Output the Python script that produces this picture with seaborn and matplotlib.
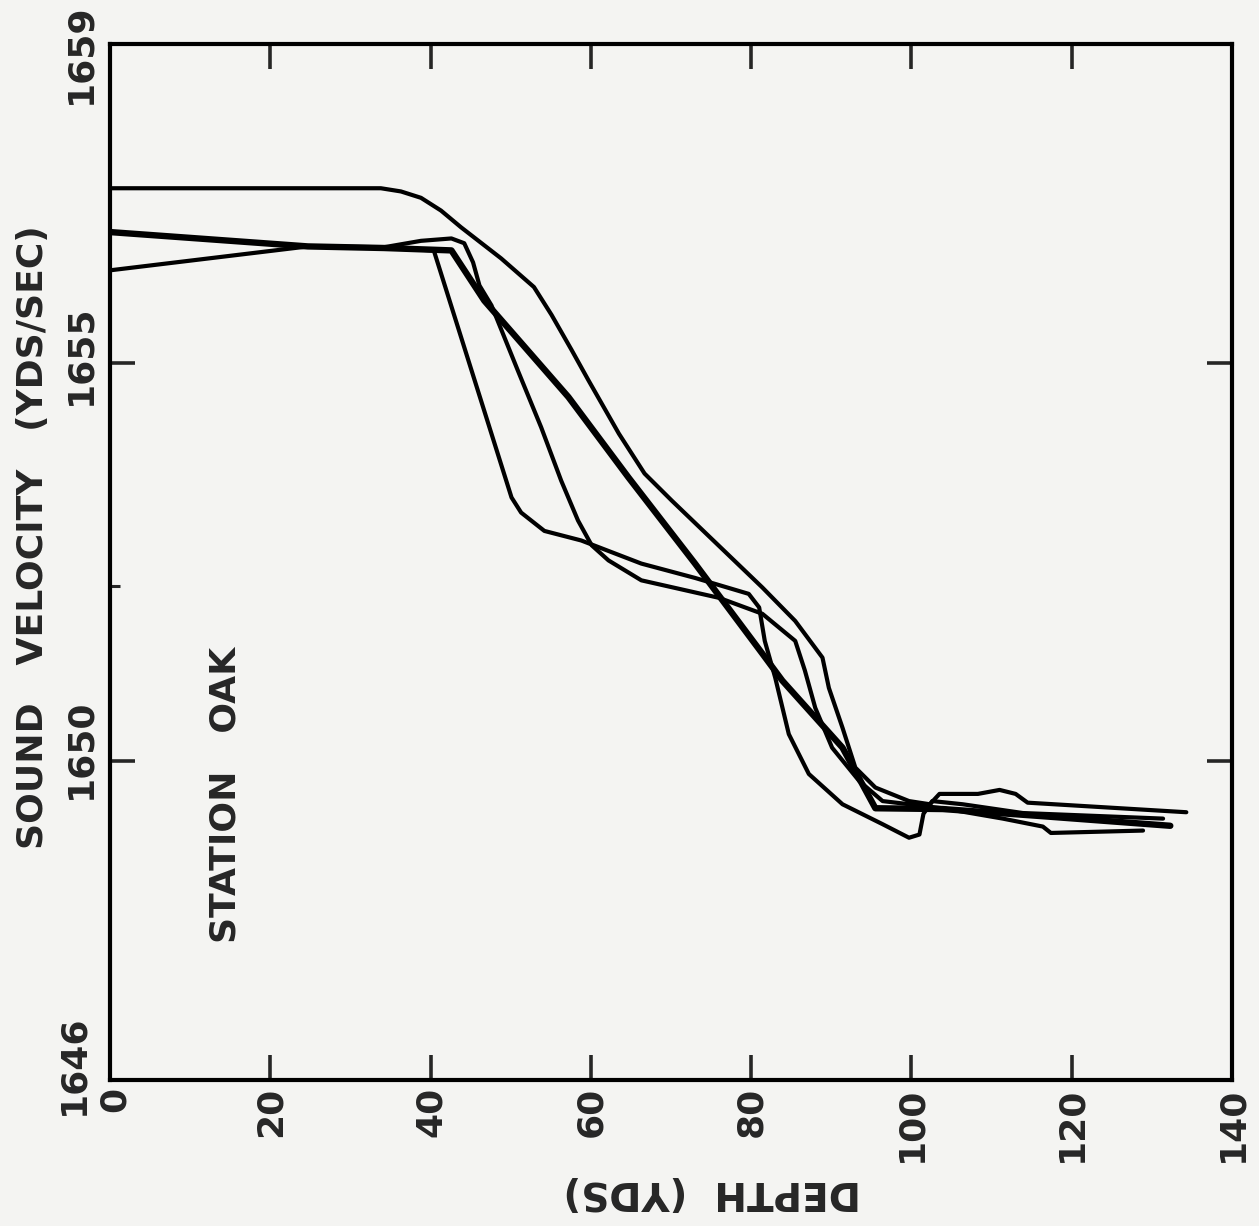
import matplotlib
matplotlib.use("Agg")
import matplotlib.pyplot as plt
import matplotlib.transforms as mtransforms
import seaborn as sns

# Set style
sns.set_style("ticks")
plt.rcParams['font.family'] = ['DejaVu Sans']

# Profiles: depth (yds) vs sound velocity (yds/sec)
depth_a = [0, 33.8, 36.3, 38.8, 41.3, 43.8, 48.8, 52.9, 55.1, 57.6, 59.7, 63.5,
           66.7, 70.1, 81.4, 85.5, 88.9, 89.7, 91.4, 93.0, 95.5, 99.7, 102.3,
           103.5, 108.3, 111.0, 113.0, 114.5, 134.3]
vel_a = [1657.19, 1657.19, 1657.15, 1657.07, 1656.91, 1656.70, 1656.31, 1655.95,
         1655.60, 1655.16, 1654.78, 1654.11, 1653.61, 1653.27, 1652.18, 1651.76,
         1651.30, 1650.92, 1650.42, 1649.92, 1649.67, 1649.50, 1649.46, 1649.59,
         1649.59, 1649.64, 1649.59, 1649.48, 1649.36]

depth_b = [0, 24.7, 34.2, 42.6, 46.7, 57.2, 64.7, 73.0, 81.4, 83.9, 91.4, 95.5,
           103.9, 116.4, 132.3]
vel_b = [1656.64, 1656.46, 1656.44, 1656.41, 1655.78, 1654.57, 1653.56, 1652.48,
         1651.35, 1651.01, 1650.17, 1649.41, 1649.40, 1649.31, 1649.19]

depth_c = [0, 24.7, 34.2, 38.8, 42.6, 44.2, 45.3, 46.1, 47.6, 50.9, 53.8, 56.3,
           58.4, 60.1, 62.2, 66.3, 76.0, 81.4, 85.5, 86.7, 88.0, 90.1, 93.5,
           96.4, 103.9, 111.4, 116.4, 117.4, 128.9]
vel_c = [1656.16, 1656.46, 1656.45, 1656.53, 1656.56, 1656.50, 1656.26, 1655.97,
         1655.72, 1654.90, 1654.19, 1653.52, 1653.02, 1652.71, 1652.52, 1652.27,
         1652.05, 1651.85, 1651.51, 1651.14, 1650.67, 1650.17, 1649.75, 1649.50,
         1649.41, 1649.28, 1649.18, 1649.10, 1649.13]

depth_d = [0, 24.7, 34.2, 40.4, 50.1, 51.3, 54.2, 58.8, 66.3, 73.0, 79.7, 81.0,
           81.7, 83.0, 84.7, 87.2, 91.4, 96.4, 99.7, 101.0, 101.5, 102.6, 106.4,
           113.9, 131.4]
vel_d = [1656.64, 1656.46, 1656.44, 1656.41, 1653.31, 1653.12, 1652.89, 1652.77,
         1652.48, 1652.30, 1652.10, 1651.93, 1651.51, 1651.05, 1650.34, 1649.84,
         1649.46, 1649.21, 1649.04, 1649.08, 1649.34, 1649.50, 1649.46, 1649.35,
         1649.28]

x_ticks = [0, 20, 40, 60, 80, 100, 120, 140]
y_ticks = [1646, 1650, 1655, 1659]

fig = plt.figure(figsize=(12.59, 12.26), dpi=100)
fig.patch.set_facecolor('#f4f4f2')
ax = fig.add_axes([110 / 1259, 1 - 1080 / 1226, 1122 / 1259, 1036 / 1226])
ax.set_facecolor('#f4f4f2')

profiles = [(depth_a, vel_a, 3.0), (depth_b, vel_b, 4.6),
            (depth_c, vel_c, 3.0), (depth_d, vel_d, 3.0)]
for xs, ys, lw in profiles:
    sns.lineplot(x=xs, y=ys, ax=ax, color='black', lw=lw, sort=False,
                 estimator=None, solid_joinstyle='round', solid_capstyle='round')

ax.set_xlim(0, 140)
ax.set_ylim(1646, 1659)
ax.set_xticks(x_ticks)
ax.set_yticks(y_ticks)
ax.set_yticks([1652.2], minor=True)

for side in ['left', 'right', 'top', 'bottom']:
    ax.spines[side].set_linewidth(3)
    ax.spines[side].set_color('black')

ax.tick_params(which='major', direction='in', length=18, width=2.6,
               top=True, right=True, labeltop=False, labelright=False)
ax.tick_params(axis='x', which='major', pad=5, labelsize=26, labelrotation=90)
ax.tick_params(axis='y', which='major', pad=9, labelsize=26, labelrotation=90)
ax.tick_params(axis='y', which='minor', direction='in', length=7, width=2.2,
               left=True, right=False)
for lab in ax.get_xticklabels() + ax.get_yticklabels():
    lab.set_fontweight('bold')
for lab in ax.get_yticklabels():
    lab.set_va('center')

ax.set_xlabel('DEPTH  (YDS)', fontsize=28, fontweight='bold', rotation=180,
              ha='center', va='center')
ax.xaxis.set_label_coords(0.537, -0.108)
ax.set_ylabel('SOUND   VELOCITY   (YDS/SEC)', fontsize=26, fontweight='bold',
              rotation=90, ha='center', va='center')
ax.yaxis.set_label_coords(-0.069, 0.524)

ax.text(0.1025, 0.275, 'STATION   OAK', transform=ax.transAxes, rotation=90,
        fontsize=26, fontweight='bold', ha='center', va='center')

# nudge the end labels like in the original lettering
ylabs = ax.get_yticklabels()
shifts = {0: (-0.07, 0.15), 1: (0, 0.12), 2: (0, 0.08), 3: (0, -0.10)}
for i, (dx, dy) in shifts.items():
    ylabs[i].set_transform(ylabs[i].get_transform() +
                           mtransforms.ScaledTranslation(dx, dy, fig.dpi_scale_trans))
xlab0 = ax.get_xticklabels()[0]
xlab0.set_transform(xlab0.get_transform() +
                    mtransforms.ScaledTranslation(0.05, 0, fig.dpi_scale_trans))

fig.savefig('out.png', dpi=100, facecolor=fig.get_facecolor())
plt.close(fig)
